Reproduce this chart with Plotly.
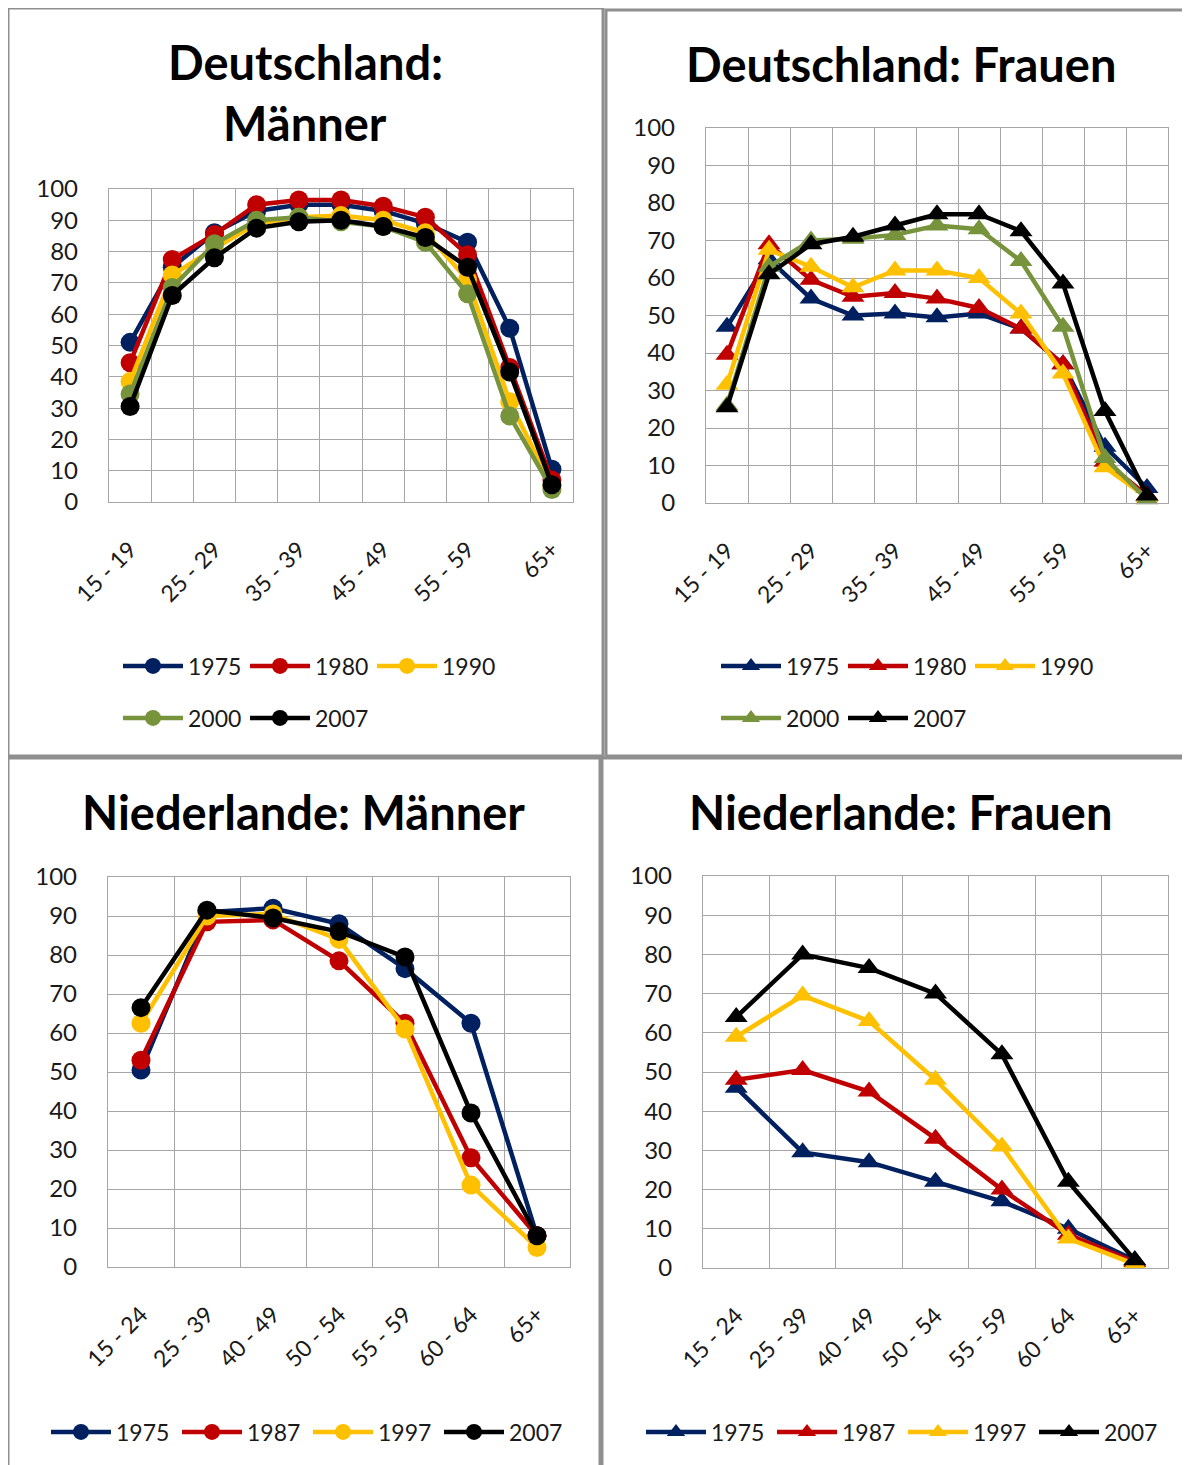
import plotly.graph_objects as go

# ---------------- data ----------------
de_ages = ["15 - 19", "20 - 24", "25 - 29", "30 - 34", "35 - 39", "40 - 44",
           "45 - 49", "50 - 54", "55 - 59", "60 - 64", "65+"]
nl_ages = ["15 - 24", "25 - 39", "40 - 49", "50 - 54", "55 - 59", "60 - 64", "65+"]

de_years = ["1975", "1980", "1990", "2000", "2007"]
nl_years = ["1975", "1987", "1997", "2007"]

de_m_1975 = [51, 75, 86, 93, 95, 95, 93, 89, 83, 55.5, 10.5]
de_m_1980 = [44.5, 77.5, 85.5, 95, 96.5, 96.5, 94.5, 91, 79, 43, 7]
de_m_1990 = [38.5, 72.5, 81, 89, 91, 91.5, 90, 86, 71, 32, 5]
de_m_2000 = [34.5, 68.5, 82.5, 90, 91, 89.5, 88, 83, 66.5, 27.5, 4]
de_m_2007 = [30.5, 66, 78, 87.5, 89.5, 90, 88, 84.5, 75, 41.5, 5.5]

de_f_1975 = [47, 65, 54.5, 50, 50.5, 49.5, 50.5, 46.5, 37, 15, 4]
de_f_1980 = [39.5, 69, 59.5, 55, 56, 54.5, 52, 46.5, 37, 11, 2]
de_f_1990 = [31.5, 67.5, 63, 57.5, 62, 62, 60, 50.5, 34.5, 9.5, 1.5]
de_f_2000 = [26, 63, 70, 70.5, 71.5, 74, 73, 64.5, 47, 12, 1]
de_f_2007 = [25.5, 61, 69, 71, 74, 77, 77, 72.5, 58.5, 24.5, 2]

nl_m_1975 = [50.5, 91, 92, 88, 76.5, 62.5, 8]
nl_m_1987 = [53, 88.5, 89, 78.5, 62.5, 28, 8]
nl_m_1997 = [62.5, 90, 90.5, 84, 61, 21, 5]
nl_m_2007 = [66.5, 91.5, 89.5, 86, 79.5, 39.5, 8]

nl_f_1975 = [46, 29.5, 27, 22, 17, 10, 2]
nl_f_1987 = [48, 50.5, 45, 33, 20, 8.5, 1.5]
nl_f_1997 = [59, 69.5, 63, 48, 31, 7.5, 1]
nl_f_2007 = [64, 80, 76.5, 70, 54.5, 22, 2]

titles = ["Deutschland:", "Männer", "Deutschland: Frauen",
          "Niederlande: Männer", "Niederlande: Frauen"]
y_ticks = [0, 10, 20, 30, 40, 50, 60, 70, 80, 90, 100]

# ---------------- style ----------------
W, H = 1190, 1465
OFF = 8  # page body margin
FONT = "Lato"
col = {"1975": "#002060", "1980": "#C00000", "1987": "#C00000",
       "1990": "#FFC000", "1997": "#FFC000", "2000": "#77933C", "2007": "#000000"}
GRID = "#A6A6A6"

def px_x(x):
    return (x - OFF) / W

def px_y(y):
    return 1 - (y - OFF) / H

fig = go.Figure()

panels = [
    ("", de_ages, de_years, [de_m_1975, de_m_1980, de_m_1990, de_m_2000, de_m_2007],
     "circle", (109, 573, 189, 502), 2, [("legend", 0, 3), ("legend2", 3, 5)]),
    ("2", de_ages, de_years, [de_f_1975, de_f_1980, de_f_1990, de_f_2000, de_f_2007],
     "triangle-up", (706, 1168, 128, 503), 2, [("legend3", 0, 3), ("legend4", 3, 5)]),
    ("3", nl_ages, nl_years, [nl_m_1975, nl_m_1987, nl_m_1997, nl_m_2007],
     "circle", (108, 570, 877, 1267), 1, [("legend5", 0, 4)]),
    ("4", nl_ages, nl_years, [nl_f_1975, nl_f_1987, nl_f_1997, nl_f_2007],
     "triangle-up", (703, 1168, 876, 1268), 1, [("legend6", 0, 4)]),
]

legend_pos = {
    "legend": (118, 666, 52), "legend2": (118, 718, 52),
    "legend3": (716, 666, 52), "legend4": (716, 718, 52),
    "legend5": (46, 1432, 56), "legend6": (641, 1432, 56),
}

layout = {}
for suf, cats, years, series, sym, box, step, legs in panels:
    xs = list(range(len(cats)))
    for i, (yr, vals) in enumerate(zip(years, series)):
        lg = [l for l, a, b in legs if a <= i < b][0]
        fig.add_trace(go.Scatter(
            x=xs, y=vals, name=yr, mode="lines+markers",
            line=dict(color=col[yr], width=4.5),
            marker=dict(symbol=sym, size=19 if sym == "circle" else 20, color=col[yr]),
            xaxis="x" + suf, yaxis="y" + suf, legend=lg, cliponaxis=False,
        ))
    x0, x1, yt, yb = box
    layout["xaxis" + suf] = dict(
        domain=[px_x(x0), px_x(x1)], anchor="y" + suf,
        range=[-0.5, len(cats) - 0.5],
        tickmode="array", tickvals=xs[::step], ticktext=cats[::step],
        tickangle=-45, showgrid=False, zeroline=False,
        showline=True, linecolor=GRID, linewidth=1.3, mirror=True,
        ticks="", ticklabelstandoff=24, automargin=False,
        tickfont=dict(family=FONT, size=23, color="#1a1a1a"),
        minor=dict(tickvals=[k - 0.5 for k in range(len(cats) + 1)],
                   showgrid=True, gridcolor=GRID, gridwidth=1.3, ticks=""),
    )
    layout["yaxis" + suf] = dict(
        domain=[px_y(yb), px_y(yt)], anchor="x" + suf,
        range=[0, 100], tickmode="array", tickvals=y_ticks,
        showgrid=True, gridcolor=GRID, gridwidth=1.3, zeroline=False,
        showline=True, linecolor=GRID, linewidth=1.3, mirror=True,
        ticks="", ticklabelstandoff=25, automargin=False,
        tickfont=dict(family=FONT, size=24, color="#1a1a1a"),
    )

for lg, (lx, ly, ew) in legend_pos.items():
    layout[lg] = dict(
        x=px_x(lx), y=px_y(ly), xanchor="left", yanchor="middle",
        orientation="h", bgcolor="rgba(0,0,0,0)", traceorder="normal",
        font=dict(family=FONT, size=23, color="#1a1a1a"),
        itemwidth=60, tracegroupgap=0, entrywidth=ew,
    )

title_pos = [(305, 62), (305, 123), (901, 64), (303, 812), (900, 812)]
annotations = []
for t, (tx, ty) in zip(titles, title_pos):
    annotations.append(dict(
        text="<b>" + t + "</b>", x=px_x(tx), y=px_y(ty), xref="paper", yref="paper",
        xanchor="center", yanchor="middle", showarrow=False,
        font=dict(family=FONT, size=47, color="#000000"),
    ))

BORDER = "#8F8F8F"
rects = [(8, 603, 8, 756), (606, 1200, 10, 756), (8, 600, 758, 1480), (602, 1200, 758, 1480)]
shapes = []
for rx0, rx1, ry0, ry1 in rects:
    shapes.append(dict(type="rect", xref="paper", yref="paper",
                       x0=px_x(rx0), x1=px_x(rx1), y0=px_y(ry1), y1=px_y(ry0),
                       line=dict(color=BORDER, width=3), fillcolor="rgba(0,0,0,0)",
                       layer="below"))

fig.update_layout(
    width=W, height=H, margin=dict(l=0, r=0, t=0, b=0, autoexpand=False),
    paper_bgcolor="white", plot_bgcolor="white",
    annotations=annotations, shapes=shapes, **layout,
)

fig.write_html("out.html")
